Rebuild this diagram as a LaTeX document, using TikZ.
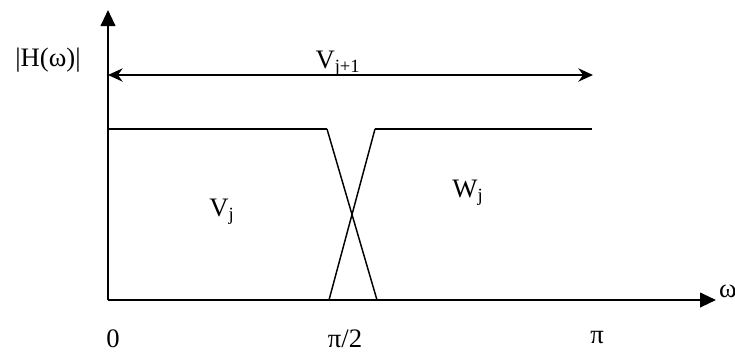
\documentclass[tikz,border=0pt]{standalone}
\usepackage{fontspec}
\setmainfont{Liberation Serif}
\usetikzlibrary{
    arrows.meta,
    positioning
}
\tikzset{
    axisline/.style={
        -{Triangle[length=12pt,width=11pt]},
        line width=1.5pt
    },
    spanline/.style={
        {Stealth[length=11pt,width=10pt]}-{Stealth[length=11pt,width=10pt]},
        line width=1.1pt
    },
    bandline/.style={
        line width=1.5pt
    },
    slopeline/.style={
        line width=1.1pt
    },
    lab/.style={
        font=\fontsize{20}{24}\selectfont,
        inner sep=0pt
    }
}

\begin{document}
\begin{tikzpicture}[
    x=0.75pt,
    y=-0.75pt
]

\useasboundingbox (0,0) rectangle (735,354);

% axes
\coordinate (o) at (108,300);
\coordinate (ytop) at (108,10);
\coordinate (xend) at (716,300);
\draw[axisline] (o) -- (ytop);
\draw[axisline] (o) -- (xend);

% span of V_{j+1}
\coordinate (sl) at (108,75);
\coordinate (sr) at (593,75);
\draw[spanline] (sl) -- (sr);

% low band and high band
\coordinate (lowtop) at (108,129);
\coordinate (lowend) at (327,129);
\coordinate (lowfoot) at (377,300);
\coordinate (highfoot) at (329,300);
\coordinate (highstart) at (375,129);
\coordinate (highend) at (592,129);
\draw[bandline] (lowtop) -- (lowend);
\draw[slopeline] (lowend) -- (lowfoot);
\draw[slopeline] (highfoot) -- (highstart);
\draw[bandline] (highstart) -- (highend);

% labels
\node[lab] (hlab) at (48,60) {|H(ω)|};
\node[lab] (vnext) at (338,64) {V\textsubscript{j+1}};
\node[lab] (vj) at (222,212) {V\textsubscript{j}};
\node[lab] (wj) at (468,193) {W\textsubscript{j}};
\node[lab] (zero) at (113,339) {0};
\node[lab] (halfpi) at (345,339) {π/2};
\node[lab] (pi) at (597,338) {π};
\node[lab] (omega) at (728,291) {ω};

\end{tikzpicture}
\end{document}
